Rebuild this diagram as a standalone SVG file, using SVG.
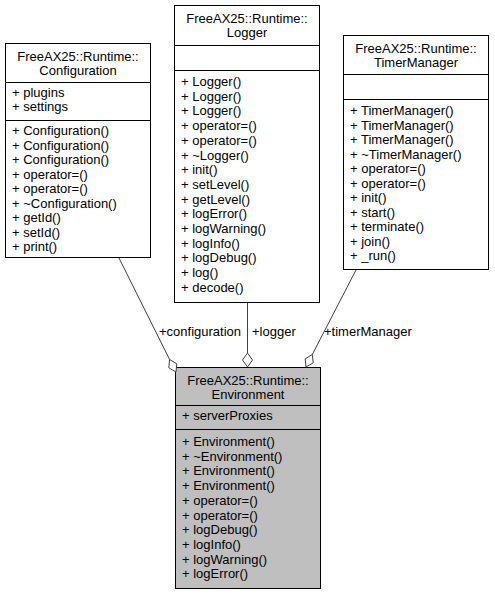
<svg xmlns="http://www.w3.org/2000/svg" width="495" height="595" viewBox="0 0 495 595">
<style>
text{font-family:"Liberation Sans",Arial,sans-serif;font-size:13px;fill:#000}
.c{text-anchor:middle}
.box{fill:#fff;stroke:#000;stroke-width:1}
.env{fill:#bfbfbf;stroke:#000;stroke-width:1}
.dv{stroke:#000;stroke-width:1}
.edge{stroke:#404040;stroke-width:1;fill:none}
.dia{fill:#fff;stroke:#404040;stroke-width:1}
</style>
<rect width="495" height="595" fill="#fff"/>
<g id="configuration">
<rect class="box" x="5.5" y="43.5" width="145" height="214"/>
<text class="c" x="78" y="61">FreeAX25::Runtime::</text>
<text class="c" x="78" y="75">Configuration</text>
<line class="dv" x1="5.5" y1="82.5" x2="150.5" y2="82.5"/>
<text x="12" y="97">+ plugins</text>
<text x="12" y="111">+ settings</text>
<line class="dv" x1="5.5" y1="120.5" x2="150.5" y2="120.5"/>
<text x="12" y="135">+ Configuration()</text>
<text x="12" y="149.5">+ Configuration()</text>
<text x="12" y="164">+ Configuration()</text>
<text x="12" y="178.5">+ operator=()</text>
<text x="12" y="193">+ operator=()</text>
<text x="12" y="207.5">+ ~Configuration()</text>
<text x="12" y="222">+ getId()</text>
<text x="12" y="236.5">+ setId()</text>
<text x="12" y="251">+ print()</text>
</g>
<g id="logger">
<rect class="box" x="174.5" y="5.5" width="145" height="297"/>
<text class="c" x="247" y="23">FreeAX25::Runtime::</text>
<text class="c" x="247" y="37">Logger</text>
<line class="dv" x1="174.5" y1="45.5" x2="319.5" y2="45.5"/>
<line class="dv" x1="174.5" y1="70.5" x2="319.5" y2="70.5"/>
<text x="181" y="86">+ Logger()</text>
<text x="181" y="100.7">+ Logger()</text>
<text x="181" y="115.4">+ Logger()</text>
<text x="181" y="130.1">+ operator=()</text>
<text x="181" y="144.8">+ operator=()</text>
<text x="181" y="159.5">+ ~Logger()</text>
<text x="181" y="174.2">+ init()</text>
<text x="181" y="188.9">+ setLevel()</text>
<text x="181" y="203.6">+ getLevel()</text>
<text x="181" y="218.3">+ logError()</text>
<text x="181" y="233">+ logWarning()</text>
<text x="181" y="247.7">+ logInfo()</text>
<text x="181" y="262.4">+ logDebug()</text>
<text x="181" y="277.1">+ log()</text>
<text x="181" y="291.8">+ decode()</text>
</g>
<g id="timermanager">
<rect class="box" x="343.5" y="35.5" width="145" height="234"/>
<text class="c" x="416" y="53">FreeAX25::Runtime::</text>
<text class="c" x="416" y="67">TimerManager</text>
<line class="dv" x1="343.5" y1="74.5" x2="488.5" y2="74.5"/>
<line class="dv" x1="343.5" y1="99.5" x2="488.5" y2="99.5"/>
<text x="350" y="115">+ TimerManager()</text>
<text x="350" y="129.5">+ TimerManager()</text>
<text x="350" y="144">+ TimerManager()</text>
<text x="350" y="158.5">+ ~TimerManager()</text>
<text x="350" y="173">+ operator=()</text>
<text x="350" y="187.5">+ operator=()</text>
<text x="350" y="202">+ init()</text>
<text x="350" y="216.5">+ start()</text>
<text x="350" y="231">+ terminate()</text>
<text x="350" y="245.5">+ join()</text>
<text x="350" y="260">+ _run()</text>
</g>
<g id="environment">
<rect class="env" x="175.5" y="367.5" width="145" height="221"/>
<text class="c" x="248" y="385">FreeAX25::Runtime::</text>
<text class="c" x="248" y="399">Environment</text>
<line class="dv" x1="175.5" y1="405.5" x2="320.5" y2="405.5"/>
<text x="182" y="420">+ serverProxies</text>
<line class="dv" x1="175.5" y1="429.5" x2="320.5" y2="429.5"/>
<text x="182" y="446">+ Environment()</text>
<text x="182" y="460.7">+ ~Environment()</text>
<text x="182" y="475.4">+ Environment()</text>
<text x="182" y="490.1">+ Environment()</text>
<text x="182" y="504.8">+ operator=()</text>
<text x="182" y="519.5">+ operator=()</text>
<text x="182" y="534.2">+ logDebug()</text>
<text x="182" y="548.9">+ logInfo()</text>
<text x="182" y="563.6">+ logWarning()</text>
<text x="182" y="578.3">+ logError()</text>
</g>
<g id="connectors">
<line class="edge" x1="119" y1="258" x2="169.6" y2="359.5"/>
<polygon class="dia" points="176,372 176.8,363.8 169.6,359.5 168.8,367.8"/>
<text x="159" y="336">+configuration</text>
<line class="edge" x1="247.5" y1="303" x2="247.5" y2="353"/>
<polygon class="dia" points="247.5,367 252.5,360 247.5,353 242.5,360"/>
<text x="252" y="336">+logger</text>
<line class="edge" x1="356" y1="270" x2="312.3" y2="354.5"/>
<polygon class="dia" points="306,367 313.2,362.8 312.3,354.5 305.2,358.8"/>
<text x="324" y="336">+timerManager</text>
</g>
</svg>
